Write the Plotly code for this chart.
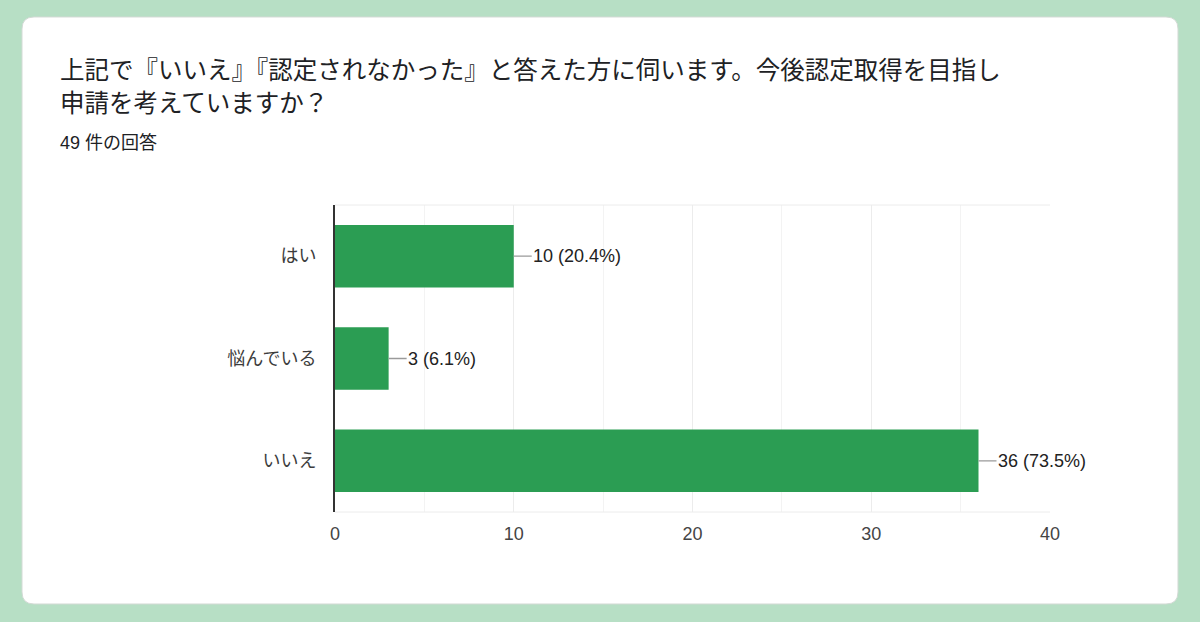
import plotly.graph_objects as go

categories = ["はい", "悩んでいる", "いいえ"]
counts = [10, 3, 36]
total = 49
x_ticks = [0, 10, 20, 30, 40]

title_line1 = "上記で『いいえ』『認定されなかった』と答えた方に伺います。今後認定取得を目指し"
title_line2 = "申請を考えていますか？"
subtitle = "49 件の回答"

font_main = "Liberation Sans, Arial, Noto Sans CJK JP, sans-serif"

W, H = 1200, 622
L, R, T, B = 335, 150, 205, 110
PW, PH = W - L - R, H - T - B


def dom(x, y):
    # page pixels -> plot-domain fractions (for card / titles)
    return (x - L) / PW, 1 - (y - T) / PH


fig = go.Figure()
fig.add_trace(go.Bar(
    x=counts, y=categories, orientation="h",
    marker=dict(color="#2b9d53", line=dict(width=0)),
    width=0.61, hoverinfo="skip",
))

# value labels with a short leader line
for c, n in zip(categories, counts):
    fig.add_annotation(
        x=n, y=c, xref="x", yref="y",
        text="%d (%.1f%%)" % (n, n / total * 100),
        showarrow=True, arrowhead=0, arrowwidth=1.3, arrowcolor="#9a9a9a",
        ax=18, ay=0, xanchor="left", standoff=0, borderpad=0,
        font=dict(size=18, color="#222222", family=font_main),
    )

# card background
r = 12
x0, x1, y0, y1 = 22, 1178, 17, 604
segs = [("M", [(x0 + r, y0)]), ("L", [(x1 - r, y0)]), ("Q", [(x1, y0), (x1, y0 + r)]),
        ("L", [(x1, y1 - r)]), ("Q", [(x1, y1), (x1 - r, y1)]), ("L", [(x0 + r, y1)]),
        ("Q", [(x0, y1), (x0, y1 - r)]), ("L", [(x0, y0 + r)]), ("Q", [(x0, y0), (x0 + r, y0)])]
path = ""
for cmd, pts in segs:
    path += cmd + " " + " ".join("%.5f,%.5f" % dom(px, py) for px, py in pts) + " "
path += "Z"
fig.add_shape(type="path", path=path, xref="paper", yref="paper",
              fillcolor="white", line=dict(color="#d3dad5", width=1), layer="below")

tx, _ = dom(58, 0)
for txt, ty, sz in [(title_line1, 70, 24.5), (title_line2, 103, 24.5), (subtitle, 143, 18)]:
    fig.add_annotation(text=txt, xref="paper", yref="paper", x=tx, y=dom(0, ty)[1],
                       xanchor="left", yanchor="middle", showarrow=False,
                       font=dict(size=sz, color="#202124", family=font_main))

fig.update_layout(
    width=W, height=H,
    margin=dict(l=L, r=R, t=T, b=B),
    paper_bgcolor="#b7dfc5", plot_bgcolor="white",
    showlegend=False,
    font=dict(family=font_main, size=18, color="#3c3c3c"),
)
fig.update_xaxes(range=[0, 40], tickvals=x_ticks, ticks="", showline=False, zeroline=False,
                 showgrid=True, gridcolor="#ececec", gridwidth=1,
                 minor=dict(dtick=5, showgrid=True, gridcolor="#f3f3f3", gridwidth=1),
                 tickfont=dict(size=18, color="#444444"), ticklabelstandoff=9)
fig.update_yaxes(autorange="reversed", showline=True, linecolor="#333333", linewidth=2,
                 ticks="", showgrid=False, ticklabelstandoff=13,
                 tickfont=dict(size=18, color="#3c3c3c"))
# top and bottom border lines of the plot area
for yy in (0, 1):
    fig.add_shape(type="line", xref="paper", yref="paper", x0=0, x1=1, y0=yy, y1=yy,
                  line=dict(color="#ececec", width=1))

fig.write_html("out.html", config={"displayModeBar": False},
               post_script="document.body.style.margin='0';"
               "document.body.style.background='#b7dfc5';document.body.style.overflow='hidden';")
